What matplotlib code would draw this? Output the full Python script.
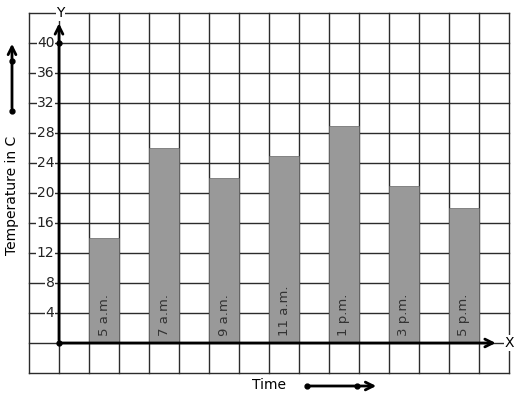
import matplotlib
matplotlib.use("Agg")
import matplotlib.pyplot as plt
import numpy as np

times = ['5 a.m.', '7 a.m.', '9 a.m.', '11 a.m.', '1 p.m.', '3 p.m.', '5 p.m.']
temps = [14, 26, 22, 25, 29, 21, 18]
yticks = [4, 8, 12, 16, 20, 24, 28, 32, 36, 40]

fig = plt.figure(figsize=(5.17, 3.99), dpi=100)
ax = fig.add_axes([0, 0, 1, 1])
# 1 unit on x = one grid cell (30 px), y in degrees (4 per cell)
ax.set_xlim((0 - 59) / 30, (517 - 59) / 30)
ax.set_ylim((343 - 399) / 7.5, 343 / 7.5)
ax.axis('off')

grid_c = '#2b2b2b'
for gx in range(-1, 16):
    ax.plot([gx, gx], [-4, 44], color=grid_c, lw=1, zorder=1)
for gy in range(-4, 45, 4):
    ax.plot([-1, 15], [gy, gy], color=grid_c, lw=1, zorder=1)

# bars
xpos = np.arange(len(times)) * 2 + 1.5
ax.bar(xpos, temps, width=1, color='#999999', edgecolor='#666666', lw=0.5, zorder=2)
for x, lab in zip(xpos, times):
    ax.text(x, 1.0, lab, rotation=90, ha='center', va='bottom',
            fontsize=9.5, color='#333333', zorder=3)

# axes with arrows
ax.annotate('', xy=(14.65, 0), xytext=(0, 0),
            arrowprops=dict(arrowstyle='->', lw=2, color='black', mutation_scale=14), zorder=4)
ax.annotate('', xy=(0, 43.0), xytext=(0, 0),
            arrowprops=dict(arrowstyle='->', lw=2, color='black', mutation_scale=14), zorder=4)
ax.plot([0, 0], [0, 40], 'o', color='black', ms=3.5, zorder=5)
ax.text(14.85, 0, 'X', ha='left', va='center', fontsize=10, zorder=5,
        bbox=dict(facecolor='white', edgecolor='none', pad=0.5))
ax.text(0.05, 44.0, 'Y', ha='center', va='center', fontsize=10, zorder=5,
        bbox=dict(facecolor='white', edgecolor='none', pad=0.5))

for t in yticks:
    ax.text(-0.15, t, str(t), ha='right', va='center', fontsize=10, color='#222222',
            zorder=5, bbox=dict(facecolor='white', edgecolor='none', pad=0.3))

# side labels
ax.text((12 - 59) / 30, (343 - 195) / 7.5, 'Temperature in C', rotation=90, ha='center',
        va='center', fontsize=10)
ax.annotate('', xy=((12 - 59) / 30, (343 - 41) / 7.5), xytext=((12 - 59) / 30, (343 - 111) / 7.5),
            arrowprops=dict(arrowstyle='->', lw=2, color='black', mutation_scale=14),
            annotation_clip=False)
ax.plot([(12 - 59) / 30] * 2, [(343 - 111) / 7.5, (343 - 61) / 7.5], 'o', color='black', ms=3.5)

ax.text((269 - 59) / 30, (343 - 385) / 7.5, 'Time', ha='center', va='center', fontsize=10)
ax.annotate('', xy=((379 - 59) / 30, (343 - 386) / 7.5), xytext=((307 - 59) / 30, (343 - 386) / 7.5),
            arrowprops=dict(arrowstyle='->', lw=2, color='black', mutation_scale=14))
ax.plot([(307 - 59) / 30, (357 - 59) / 30], [(343 - 386) / 7.5] * 2, 'o', color='black', ms=3.5)

fig.savefig('out.png', dpi=100)
